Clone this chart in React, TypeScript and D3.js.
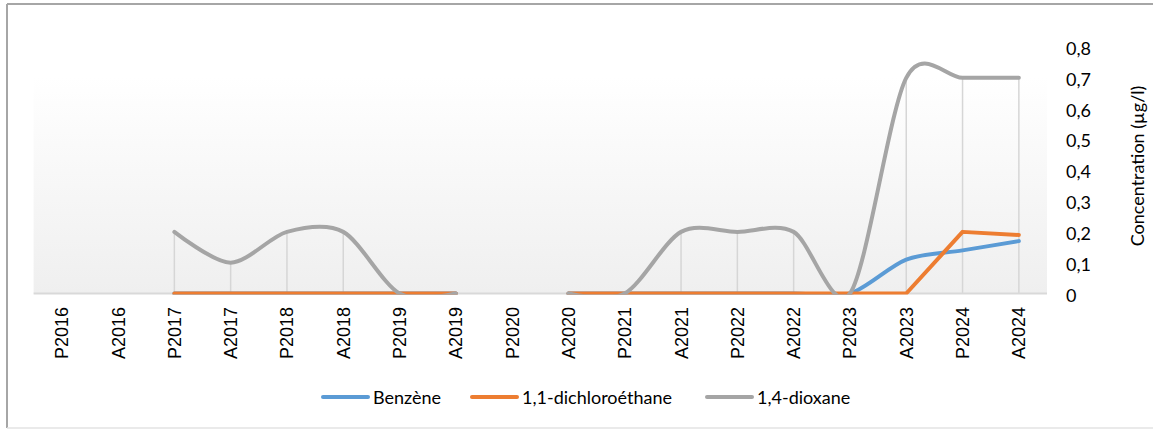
import React from "react";
import * as d3 from "d3";

const categories = [
  "P2016", "A2016", "P2017", "A2017", "P2018", "A2018", "P2019", "A2019", "P2020",
  "A2020", "P2021", "A2021", "P2022", "A2022", "P2023", "A2023", "P2024", "A2024",
];
const benzene: (number | null)[] = [
  null, null, 0, 0, 0, 0, 0, 0, null, 0, 0, 0, 0, 0, 0, 0.11, 0.14, 0.17,
];
const dichloroethane: (number | null)[] = [
  null, null, 0, 0, 0, 0, 0, 0, null, 0, 0, 0, 0, 0, 0, 0, 0.2, 0.19,
];
const dioxane: (number | null)[] = [
  null, null, 0.2, 0.1, 0.2, 0.2, 0, 0, null, 0, 0, 0.2, 0.2, 0.2, 0, 0.7, 0.7, 0.7,
];
const yTicks = [0, 0.1, 0.2, 0.3, 0.4, 0.5, 0.6, 0.7, 0.8];
const yTickLabels = ["0", "0,1", "0,2", "0,3", "0,4", "0,5", "0,6", "0,7", "0,8"];
const yTitle = "Concentration (µg/l)";

const seriesList = [
  { name: "Benzène", values: benzene, color: "#5b9bd5", smooth: true },
  { name: "1,1-dichloroéthane", values: dichloroethane, color: "#ed7d31", smooth: false },
  { name: "1,4-dioxane", values: dioxane, color: "#a5a5a5", smooth: true },
];

const W = 1153;
const H = 429;
const plot = { left: 33.6, right: 1047, top: 47, bottom: 293.5 };
const FONT = "Lato, 'Liberation Sans', sans-serif";

export default function App() {
  const x = d3
    .scaleBand<string>()
    .domain(categories)
    .range([plot.left, plot.right])
    .padding(0);
  const cx = (c: string) => (x(c) as number) + x.bandwidth() / 2;
  const y = d3.scaleLinear().domain([0, 0.8]).range([plot.bottom, plot.top]);

  const makeLine = (smooth: boolean) =>
    d3
      .line<number | null>()
      .defined((d) => d != null)
      .x((_, i) => cx(categories[i]))
      .y((d) => y(d as number))
      .curve(smooth ? d3.curveCardinal.tension(0.1) : d3.curveLinear);

  const drops = categories.map((c, i) => {
    const vals = seriesList
      .map((s) => s.values[i])
      .filter((v) => v != null) as number[];
    return { c, max: vals.length ? d3.max(vals)! : null };
  });

  const legendItems = [
    { name: "Benzène", color: "#5b9bd5", x1: 323, x2: 368, tx: 373 },
    { name: "1,1-dichloroéthane", color: "#ed7d31", x1: 472, x2: 517, tx: 522 },
    { name: "1,4-dioxane", color: "#a5a5a5", x1: 707, x2: 752, tx: 757 },
  ];

  return (
    <svg
      width={W}
      height={H}
      style={{ position: "absolute", left: 0, top: 0, background: "#fff" }}
    >
      <defs>
        <linearGradient id="bg" x1="0" y1="0" x2="0" y2="1">
          <stop offset="0" stopColor="#ffffff" />
          <stop offset="0.12" stopColor="#ffffff" />
          <stop offset="1" stopColor="#efefef" />
        </linearGradient>
        <clipPath id="clip">
          <rect
            x={plot.left}
            y={plot.top - 10}
            width={plot.right - plot.left}
            height={plot.bottom - plot.top + 11}
          />
        </clipPath>
      </defs>
      <line x1={7} y1={4} x2={W} y2={4} stroke="#a6a6a6" strokeWidth={2} />
      <line x1={7} y1={4} x2={7} y2={428} stroke="#a6a6a6" strokeWidth={2} />
      <line x1={7} y1={428} x2={W} y2={428} stroke="#e3e3e3" strokeWidth={1.5} />

      <rect
        x={plot.left}
        y={plot.top}
        width={plot.right - plot.left}
        height={plot.bottom - plot.top}
        fill="url(#bg)"
      />
      {drops.map((d) =>
        d.max != null && d.max > 0 ? (
          <line
            key={d.c}
            x1={cx(d.c)}
            x2={cx(d.c)}
            y1={y(d.max)}
            y2={y(0)}
            stroke="#d6d6d6"
            strokeWidth={1.5}
          />
        ) : null
      )}
      <line
        x1={plot.left}
        x2={plot.right}
        y1={y(0)}
        y2={y(0)}
        stroke="#d9d9d9"
        strokeWidth={2}
      />
      <g clipPath="url(#clip)">
        {seriesList.map((s) => (
          <path
            key={s.name}
            d={makeLine(s.smooth)(s.values) || ""}
            fill="none"
            stroke={s.color}
            strokeWidth={4}
            strokeLinejoin="round"
            strokeLinecap="round"
          />
        ))}
      </g>
      {categories.map((c) => (
        <text
          key={c}
          transform={`translate(${cx(c) + 6.5},307) rotate(-90)`}
          textAnchor="end"
          fontFamily="'Liberation Sans', Arial, sans-serif"
          fontSize={18}
          fill="#000"
        >
          {c}
        </text>
      ))}
      {yTicks.map((t, i) => (
        <text
          key={t}
          x={1066}
          y={y(t) + 1}
          dominantBaseline="central"
          fontFamily={FONT}
          fontSize={18}
          fill="#000"
        >
          {yTickLabels[i]}
        </text>
      ))}
      <text
        transform={`translate(1137,166) rotate(-90)`}
        textAnchor="middle"
        dominantBaseline="central"
        fontFamily={FONT}
        fontSize={18}
        fill="#000"
      >
        {yTitle}
      </text>
      {legendItems.map((l) => (
        <g key={l.name}>
          <line
            x1={l.x1}
            x2={l.x2}
            y1={397}
            y2={397}
            stroke={l.color}
            strokeWidth={4}
            strokeLinecap="round"
          />
          <text x={l.tx} y={404} fontFamily={FONT} fontSize={18} fill="#000">
            {l.name}
          </text>
        </g>
      ))}
    </svg>
  );
}
